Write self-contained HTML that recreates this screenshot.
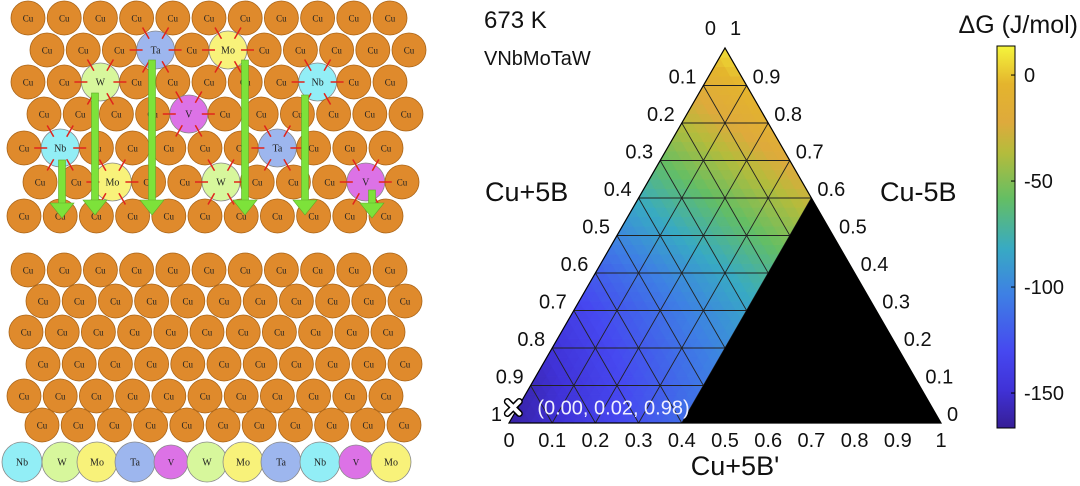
<!DOCTYPE html>
<html><head><meta charset="utf-8"><style>
body{margin:0;background:#fff;width:1080px;height:486px;overflow:hidden}
svg{display:block;font-family:"Liberation Sans",Arial,sans-serif}
</style></head><body>
<svg id="root" width="1080" height="486" viewBox="0 0 1080 486">
<g id="lattice"></g>
<g id="tern"></g>
</svg>
<script>
// ---- chart data ----
const leftEdgeLevels = [0,0.1,0.2,0.3,0.4,0.5,0.6,0.7,0.8,0.9,1.0];          // height fraction (Cu-5B)
const leftEdgeDG = [-163,-157,-148,-136,-120,-100,-80,-58,-36,-16,8];       // ΔG at Cu+5B' = 0
const dGSlopePerB = 125;                                                  // ΔG increase per unit Cu+5B'
const stableLimitB = 0.4;                                                 // black (unstable) region boundary
const tickLabels = ["0","0.1","0.2","0.3","0.4","0.5","0.6","0.7","0.8","0.9","1"];
const cbTicks = [0,-50,-100,-150];
const cbMin = -166.5, cbMax = 13.7;
const marker = [0.00,0.02,0.98];

const NS="http://www.w3.org/2000/svg";
function mk(tag,attrs,parent){const e=document.createElementNS(NS,tag);for(const k in attrs)e.setAttribute(k,attrs[k]);parent.appendChild(e);return e;}

// ---- lattice panel ----
const L=document.getElementById('lattice');
const colors={Cu:'#df8a2c',Nb:'#92eef6',W:'#d7f79c',Mo:'#f8f27a',Ta:'#9db6ee',V:'#dc72e6'};
function atom(x,y,r,el){
  const g=mk('g',{},L);
  
  
  mk('circle',{cx:x,cy:y,r:r,fill:colors[el],stroke:el==='Cu'?'#a96418':'#8a8a8a','stroke-width':0.8},g);
  const t=mk('text',{x:x,y:y+3.5,'text-anchor':'middle','font-size':r>18?10:9,'font-family':'Liberation Serif,serif',fill:'#222'},g);
  t.textContent=el;
}
const topRows=[
 {y:18,x0:28,n:11,sub:{}},
 {y:50,x0:47,n:11,sub:{3:'Ta',5:'Mo'}},
 {y:82,x0:28,n:11,sub:{2:'W',8:'Nb'}},
 {y:114,x0:44,n:11,sub:{4:'V'}},
 {y:148,x0:24,n:11,sub:{1:'Nb',7:'Ta'}},
 {y:182,x0:40,n:11,sub:{2:'Mo',5:'W',9:'V'}},
 {y:216,x0:24,n:11,sub:{}}
];
const solutes=[];
topRows.forEach(r=>{for(let i=0;i<r.n;i++){const x=r.x0+i*36.2;const el=r.sub[i]||'Cu';atom(x,r.y,el==='Cu'?17:19,el);if(el!=='Cu')solutes.push([x,r.y]);}});
solutes.forEach(([x,y])=>{for(let k=0;k<6;k++){const a=k*Math.PI/3;const x1=x+Math.cos(a)*13,y1=y+Math.sin(a)*13,x2=x+Math.cos(a)*26,y2=y+Math.sin(a)*26;
  const l=mk('line',{x1,y1,x2,y2,stroke:'#e0241c','stroke-width':1.5},L);
  
  }});
[[62,160,218],[95,93,215],[152,60,215],[245,60,215],[305,95,215],[372,190,218]].forEach(([x,y1,y2])=>{
  const g=mk('g',{},L);
  
  
  mk('rect',{x:x-3.5,y:y1,width:7,height:y2-y1-14,fill:'#7de23a',stroke:'#5fa828','stroke-width':0.6},g);
  mk('polygon',{points:`${x-12},${y2-15} ${x+12},${y2-15} ${x},${y2}`,fill:'#7de23a',stroke:'#5fa828','stroke-width':0.6},g);
});
const botRows=[{y:270,x0:28},{y:301,x0:43},{y:332,x0:26},{y:364,x0:43},{y:396,x0:24},{y:425,x0:42}];
botRows.forEach(r=>{for(let i=0;i<11;i++)atom(r.x0+i*36.2,r.y,17,'Cu');});
[['Nb',22],['W',62],['Mo',97],['Ta',135],['V',171],['W',207],['Mo',243],['Ta',281],['Nb',320],['V',356],['Mo',391]].forEach(([el,x])=>atom(x,462,el==='V'?17:20,el));

// ---- ternary ----
const T=document.getElementById('tern');
const BL=[509,423],BR=[941,423],AP=[725,48];
function pt(b,t){return [BL[0]+b*(BR[0]-BL[0])+t*(AP[0]-BL[0]), BL[1]+t*(AP[1]-BL[1])];}
function dG(b,t){const f=t*10, i=Math.min(9,Math.floor(f)), w=f-i;
  return leftEdgeDG[i]*(1-w)+leftEdgeDG[i+1]*w + dGSlopePerB*b;}
const stops=[[0,[54,30,150]],[0.1,[64,50,215]],[0.2,[70,72,240]],[0.35,[62,128,228]],[0.47,[56,170,195]],[0.6,[100,190,100]],[0.72,[180,188,60]],[0.8,[222,170,60]],[0.9,[228,180,45]],[1,[245,245,60]]];
function col(v){let u=(v-cbMin)/(cbMax-cbMin);u=Math.max(0,Math.min(1,u));
  for(let i=0;i<stops.length-1;i++){if(u<=stops[i+1][0]){const w=(u-stops[i][0])/(stops[i+1][0]-stops[i][0]);const c=stops[i][1].map((a,k)=>Math.round(a+(stops[i+1][1][k]-a)*w));return `rgb(${c})`;}}return 'rgb(245,245,60)';}
const field=mk('g',{},T);


const N=40;
for(let j=0;j<N;j++)for(let i=0;i<N-j;i++){
  const b0=i/N,t0=j/N,d=1/N;
  const tris=[[[b0,t0],[b0+d,t0],[b0,t0+d]]];
  if(i<N-j-1)tris.push([[b0+d,t0],[b0+d,t0+d],[b0,t0+d]]);
  tris.forEach(tr=>{const cb=(tr[0][0]+tr[1][0]+tr[2][0])/3,ct=(tr[0][1]+tr[1][1]+tr[2][1])/3;
    mk('polygon',{points:tr.map(p=>pt(p[0],p[1]).join(',')).join(' '),fill:col(dG(cb,ct)),stroke:col(dG(cb,ct)),'stroke-width':0.6},field);});
}
const grid=mk('g',{stroke:'#222','stroke-width':0.9,fill:'none'},T);


for(let k=1;k<10;k++){const f=k/10;
  let a=pt(0,f),b=pt(1-f,f);mk('line',{x1:a[0],y1:a[1],x2:b[0],y2:b[1]},grid);
  a=pt(f,0);b=pt(f,1-f);mk('line',{x1:a[0],y1:a[1],x2:b[0],y2:b[1]},grid);
  a=pt(f,0);b=pt(0,f);mk('line',{x1:a[0],y1:a[1],x2:b[0],y2:b[1]},grid);}
const p1=pt(stableLimitB,0),p2=pt(1,0),p3=pt(stableLimitB,1-stableLimitB);
const blk=mk('polygon',{points:[p1,p2,p3].map(p=>p.join(',')).join(' '),fill:'#000'},T);


const out=mk('polygon',{points:[BL,BR,AP].map(p=>p.join(',')).join(' '),fill:'none',stroke:'#000','stroke-width':1.2},T);


function txt(x,y,s,size,anchor,name,fill){const t=mk('text',{x,y,'font-size':size,'text-anchor':anchor||'start',fill:fill||'#111'},T);t.textContent=s;
  
  return t;}
for(let k=0;k<=10;k++){const f=k/10;
  if(k>0){const p=pt(0,1-f);txt(p[0]-7,p[1]-2,tickLabels[k],20,'end','left-tick-label');}
  if(k<10){const q=pt(1-f,f);txt(q[0]+6,q[1]-2,tickLabels[k],20,'start','right-tick-label');}
  const r=pt(f,0);txt(r[0],447,tickLabels[k],20,'middle','bottom-tick-label');
}
txt(AP[0]-9,35,'0',20,'end','apex-left-label');txt(AP[0]+5,35,'1',20,'start','apex-right-label');
txt(485,201,'Cu+5B',27,'start','left-axis-title');
txt(880,201,'Cu-5B',27,'start','right-axis-title');
txt(735,475,"Cu+5B'",27,'middle','bottom-axis-title');
txt(484,28,'673 K',24,'start','temperature-label');
txt(484,65,'VNbMoTaW',20,'start','alloy-label');
const mp=pt(marker[0],marker[1]);
const mg=mk('g',{},T);


mk('path',{d:`M${mp[0]-6},${mp[1]-14} l12,12 M${mp[0]+6},${mp[1]-14} l-12,12`,stroke:'#000','stroke-width':7,'stroke-linecap':'round'},mg);
mk('path',{d:`M${mp[0]-6},${mp[1]-14} l12,12 M${mp[0]+6},${mp[1]-14} l-12,12`,stroke:'#fff','stroke-width':4,'stroke-linecap':'round'},mg);
txt(mp[0]+24,mp[1]-1,`(${marker.map(v=>v.toFixed(2)).join(', ')})`,20,'start','marker-label','#f0f0ff');
const cbX=997,cbW=18,cbT=46,cbB=428;
const defs=mk('defs',{},T);
const lg=mk('linearGradient',{id:'cbg',x1:0,y1:1,x2:0,y2:0},defs);
stops.forEach(s=>mk('stop',{offset:s[0],'stop-color':`rgb(${s[1]})`},lg));
const cb=mk('rect',{x:cbX,y:cbT,width:cbW,height:cbB-cbT,fill:'url(#cbg)',stroke:'#000','stroke-width':1},T);


cbTicks.forEach(v=>{const y=cbB-(v-cbMin)/(cbMax-cbMin)*(cbB-cbT);
  mk('line',{x1:cbX+cbW-4,x2:cbX+cbW,y1:y,y2:y,stroke:'#000'},T);
  txt(1024,y+7,String(v),20,'start','colorbar-tick-label');});
txt(1078,33,'\u0394G (J/mol)',25,'end','colorbar-title');
</script>
</body></html>
